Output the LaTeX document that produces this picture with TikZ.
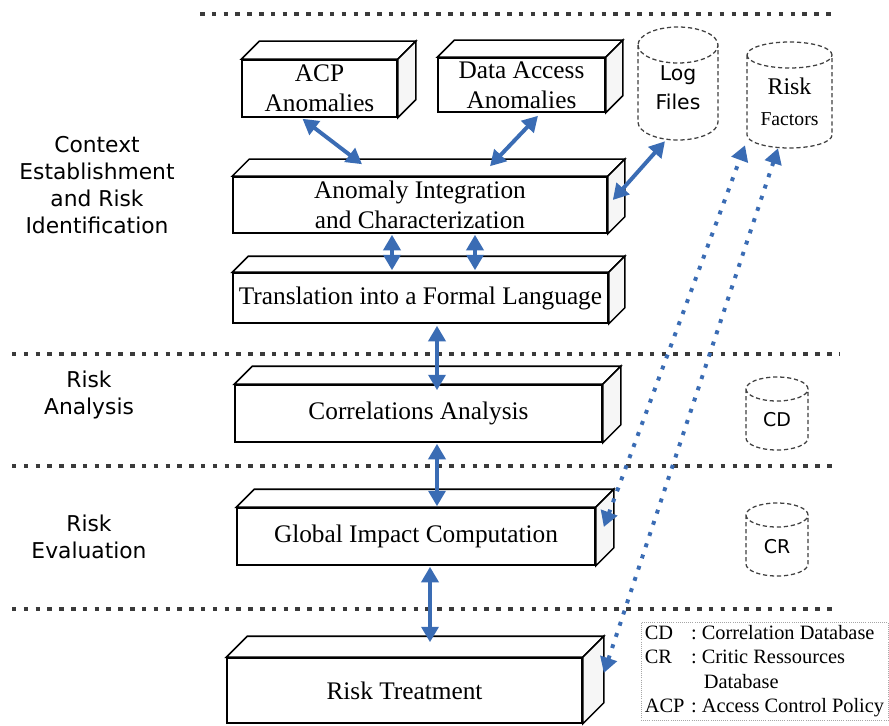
\documentclass[tikz,border=0pt]{standalone}
\usepackage{fontspec}
\setmainfont{Liberation Serif}
\setsansfont{DejaVu Sans}
\usepackage{tikz}
\usetikzlibrary{arrows.meta, fit}
\usepackage{xcolor}
\definecolor{flowblue}{HTML}{3A6CB4}
\definecolor{rulegray}{HTML}{3A3A3A}
\definecolor{sidegray}{HTML}{F6F6F6}

% top and right faces of a box node, depth in picture units
\newcommand\slabtop[2]{%
  \draw[face] (#1.north west) -- ++(#2,-#2) -- ([shift={(#2,-#2)}]#1.north east) -- (#1.north east) -- cycle;
  \draw[face, fill=sidegray] (#1.north east) -- ++(#2,-#2) -- ([shift={(#2,-#2)}]#1.south east) -- (#1.south east) -- cycle;
}

% dashed database drum: name, centre x, top, bottom, x radius, y radius
\newcommand\drum[6]{%
  \draw[dbline] (#2-#5,#3+#6) -- (#2-#5,#4-#6)
      arc[start angle=180, end angle=0, x radius=#5, y radius=#6]
      -- (#2+#5,#3+#6)
      arc[start angle=0, end angle=-180, x radius=#5, y radius=#6] -- cycle
      (#2-#5,#3+#6) arc[start angle=180, end angle=0, x radius=#5, y radius=#6];
  \path (#2-#5,#3) coordinate (#1-nw) (#2+#5,#4) coordinate (#1-se);
  \node[fit=(#1-nw)(#1-se), inner sep=0pt] (#1) {};
}

\tikzset{
  slab/.style={draw, line width=1.1pt, fill=white, align=center, inner sep=1pt,
               font=\fontsize{18}{21}\selectfont},
  face/.style={draw, line width=1.1pt, fill=white},
  rule/.style={draw=rulegray, line width=3.2pt, dash pattern=on 3.2pt off 5.2pt},
  dbline/.style={draw=black!75, line width=0.9pt, dash pattern=on 3pt off 2pt, fill=white},
  dbsans/.style={font=\sffamily\fontsize{14.5}{20.6}\selectfont, align=center},
  phase/.style={font=\sffamily\fontsize{15.5}{19}\selectfont, align=center},
  twoway/.style={draw=flowblue, line width=2.8pt, <->, >={Triangle[length=11pt, width=12pt]}},
  dotlink/.style={draw=flowblue, line width=2.8pt, dash pattern=on 2.8pt off 5.6pt,
                  <->, >={Triangle[length=11pt, width=12pt]}},
  legend/.style={draw=gray!70, densely dotted, line width=0.5pt, inner sep=1pt, align=left,
                 font=\fontsize{14.5}{17.3}\selectfont}
}

\begin{document}
\begin{tikzpicture}[x=0.025cm, y=-0.025cm]
\useasboundingbox (0,0) rectangle (889,725);

% phase separators
\draw[rule] (200,14) -- (832,14);
\draw[rule] (12,354) -- (840,354);
\draw[rule] (12,466) -- (832,466);
\draw[rule] (12,609) -- (832,609);

% phase names
\node[phase] (ctx) at (97,185) {Context\\Establishment\\and Risk\\Identification};
\node[phase] (ana) at (89,395) {Risk\\Analysis};
\node[phase] (eva) at (89,537) {Risk\\Evaluation};

% process boxes
\node[slab, minimum width=3.875cm, minimum height=1.425cm] (acp) at (319.5,88.5) {ACP\\Anomalies};
\node[slab, minimum width=4.175cm, minimum height=1.35cm] (daa) at (521.5,85) {Data Access\\Anomalies};
\node[slab, minimum width=9.35cm, minimum height=1.4cm] (aic) at (420,205) {Anomaly Integration\\and Characterization};
\node[slab, minimum width=9.375cm, minimum height=1.25cm] (tfl) at (420.5,298) {Translation into a Formal Language};
\node[slab, minimum width=9.175cm, minimum height=1.425cm] (cor) at (418.5,413.5) {Correlations Analysis};
\node[slab, minimum width=8.95cm, minimum height=1.425cm] (gic) at (416,536.5) {Global Impact Computation};
\node[slab, minimum width=8.875cm, minimum height=1.625cm] (rtr) at (404.5,690.5) {Risk Treatment};
\slabtop{acp}{18}
\slabtop{daa}{17}
\slabtop{aic}{17}
\slabtop{tfl}{16}
\slabtop{cor}{18}
\slabtop{gic}{18}
\slabtop{rtr}{21}

% databases
\drum{log}{678}{27}{140}{40}{18}
\drum{rf}{789.5}{42}{148}{42.5}{13}
\drum{cd}{777}{377}{450}{31}{12}
\drum{cr}{777}{503}{576}{31}{12}
\node[dbsans] (logtext) at (678,88) {Log\\Files};
\node[align=center, font=\fontsize{17}{22}\selectfont] (rftext) at (789.5,102) {Risk\\{\fontsize{14}{16}\selectfont Factors}};
\node[dbsans, font=\sffamily\fontsize{13.5}{16}\selectfont] (cdtext) at (777,420) {CD};
\node[dbsans, font=\sffamily\fontsize{13.5}{16}\selectfont] (crtext) at (777,547) {CR};

% flows
\draw[twoway] ([shift={(-17,1)}]acp.south) -- ([shift={(-58,-12)}]aic.north);
\draw[twoway] ([shift={(16.5,3)}]daa.south) -- ([shift={(70,-10)}]aic.north);
\draw[twoway] ([shift={(-13,1)}]log.south) -- ([shift={(5,-5)}]aic.east);
\draw[twoway] ([shift={(-28,1)}]aic.south) -- ([shift={(-28.5,-2)}]tfl.north);
\draw[twoway] ([shift={(55,1)}]aic.south) -- ([shift={(54.5,-2)}]tfl.north);
\draw[twoway] ([shift={(16.5,2)}]tfl.south) -- ([shift={(18.5,6)}]cor.north);
\draw[twoway] ([shift={(18.5,1)}]cor.south) -- ([shift={(21,-1)}]gic.north);
\draw[twoway] ([shift={(14,1)}]gic.south) -- ([shift={(25.5,-15)}]rtr.north);
\draw[dotlink] ([shift={(8,-9.5)}]gic.east) -- ([shift={(-44.5,-3)}]rf.south);
\draw[dotlink] ([shift={(21,-17.5)}]rtr.east) -- ([shift={(-11.5,0)}]rf.south);

% abbreviations
\node[legend, minimum width=6.175cm, minimum height=2.45cm] (key) at (764.5,671) {%
\makebox[33pt][l]{CD}\makebox[7.5pt][l]{:}Correlation Database\\
\makebox[33pt][l]{CR}\makebox[7.5pt][l]{:}Critic Ressources\\
\hspace*{42pt}Database\\
\makebox[33pt][l]{ACP}\makebox[7.5pt][l]{:}Access Control Policy};
\end{tikzpicture}
\end{document}
